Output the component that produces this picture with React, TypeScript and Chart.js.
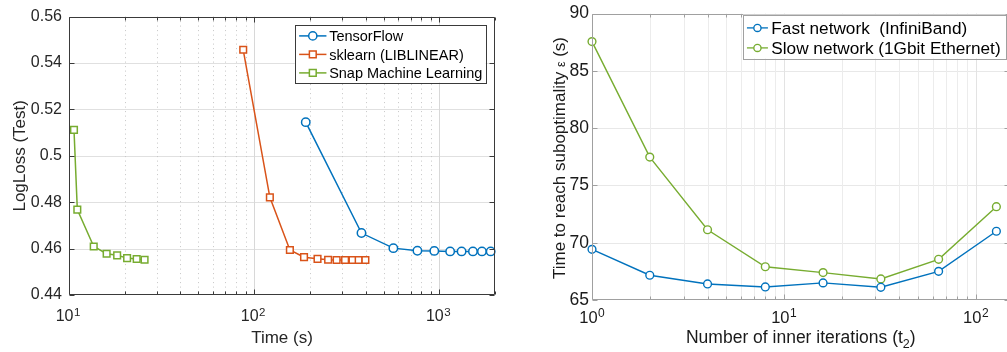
import React, { useEffect, useRef } from "react";
import { Chart, registerables } from "chart.js";

Chart.register(...registerables);

const FONT = '"Liberation Sans", Arial, Helvetica, sans-serif';
const BLUE = "#0072BD";
const ORANGE = "#D95319";
const GREEN = "#77AC30";

// ---------- Left chart: LogLoss (Test) vs Time (s)
const tfTime = [190, 380, 565, 762, 940, 1145, 1320, 1520, 1700, 1895];
const tfLoss = [0.5145, 0.4667, 0.4602, 0.4591, 0.459, 0.4588, 0.4588, 0.4588, 0.4588, 0.4588];
const skTime = [87.3, 121.6, 156, 186, 220, 251, 279, 310, 340, 367, 399];
const skLoss = [0.5457, 0.4821, 0.4594, 0.4563, 0.4556, 0.4552, 0.4551, 0.4551, 0.4551, 0.4551, 0.4551];
const snapTime = [10.64, 11.09, 13.6, 15.97, 18.2, 20.6, 23.2, 25.6];
const snapLoss = [0.5112, 0.4768, 0.4609, 0.4578, 0.4571, 0.4559, 0.4555, 0.4552];
const leftLabels = ["TensorFlow", "sklearn (LIBLINEAR)", "Snap Machine Learning"];
const leftXRange = [10, 2000];
const leftYRange = [0.44, 0.56];
const leftYStep = 0.02;
const leftXTitle = "Time (s)";
const leftYTitle = "LogLoss (Test)";

// ---------- Right chart: time to reach suboptimality vs inner iterations
const innerIters = [1, 2, 4, 8, 16, 32, 64, 128];
const fastTime = [69.42, 67.16, 66.4, 66.14, 66.49, 66.11, 67.5, 71.0];
const slowTime = [87.55, 77.47, 71.13, 67.9, 67.39, 66.84, 68.55, 73.14];
const rightLabels = ["Fast network  (InfiniBand)", "Slow network (1Gbit Ethernet)"];
const rightXRange = [1, 150];
const rightYRange = [65, 90];
const rightYStep = 5;
const rightXTitle = ["Number of inner iterations (t", "2", ")"];
const rightYTitle = ["Time to reach suboptimality ", "\u03b5", " (s)"];

type Tk = { v: number; major: boolean };

function logTicks(min: number, max: number): Tk[] {
  const out: Tk[] = [];
  const e0 = Math.floor(Math.log10(min));
  const e1 = Math.ceil(Math.log10(max));
  for (let e = e0; e <= e1; e++) {
    for (let s = 1; s < 10; s++) {
      const v = s * Math.pow(10, e);
      if (v >= min * 0.9999 && v <= max * 1.0001) out.push({ v, major: s === 1 });
    }
  }
  return out;
}

const crisp = (p: number) => Math.round(p) + 0.5;

function line(ctx: CanvasRenderingContext2D, x1: number, y1: number, x2: number, y2: number) {
  ctx.beginPath();
  ctx.moveTo(x1, y1);
  ctx.lineTo(x2, y2);
  ctx.stroke();
}

function drawMarker(ctx: CanvasRenderingContext2D, style: string, x: number, y: number, r: number, color: string, lw: number) {
  ctx.save();
  ctx.lineWidth = lw;
  ctx.strokeStyle = color;
  ctx.fillStyle = "#fff";
  ctx.beginPath();
  if (style === "rect") ctx.rect(x - r, y - r, 2 * r, 2 * r);
  else ctx.arc(x, y, r, 0, Math.PI * 2);
  ctx.fill();
  ctx.stroke();
  ctx.restore();
}

type Seg = { t: string; font: string; dy?: number };

function drawRich(ctx: CanvasRenderingContext2D, segs: Seg[], cx: number, y: number) {
  let total = 0;
  const ws = segs.map((s) => {
    ctx.font = s.font;
    const w = ctx.measureText(s.t).width;
    total += w;
    return w;
  });
  let x = cx - total / 2;
  ctx.textAlign = "left";
  ctx.textBaseline = "alphabetic";
  segs.forEach((s, i) => {
    ctx.font = s.font;
    ctx.fillText(s.t, x, y + (s.dy || 0));
    x += ws[i];
  });
}

function drawPowLabels(ctx: CanvasRenderingContext2D, xs: any, ticks: Tk[], o: any) {
  ctx.save();
  ctx.fillStyle = o.color;
  ctx.textAlign = "left";
  ctx.textBaseline = "alphabetic";
  ticks
    .filter((t) => t.major)
    .forEach((t) => {
      const px = xs.getPixelForValue(t.v);
      const exp = String(Math.round(Math.log10(t.v)));
      ctx.font = o.baseFont;
      const wb = ctx.measureText("10").width;
      ctx.font = o.expFont;
      const we = ctx.measureText(exp).width;
      const start = px - (wb + we + o.gap) / 2 + o.shift;
      ctx.font = o.baseFont;
      ctx.fillText("10", start, o.baseY);
      ctx.font = o.expFont;
      ctx.fillText(exp, start + wb + o.gap, o.expY);
    });
  ctx.restore();
}

function drawLegend(chart: any, o: any) {
  const ctx: CanvasRenderingContext2D = chart.ctx;
  const ds = chart.data.datasets;
  ctx.save();
  ctx.font = o.font;
  const maxW = Math.max(...ds.map((d: any) => ctx.measureText(d.label).width));
  const w = o.textX + maxW + o.padRight;
  const left = o.right - w;
  const h = o.firstRow + (ds.length - 1) * o.rowH + o.padBottom;
  ctx.fillStyle = "#fff";
  ctx.fillRect(left, o.top, w, h);
  ctx.strokeStyle = o.border;
  ctx.lineWidth = 1;
  ctx.strokeRect(crisp(left), crisp(o.top), Math.round(w), Math.round(h));
  ds.forEach((d: any, i: number) => {
    const y = o.top + o.firstRow + i * o.rowH;
    ctx.strokeStyle = d.borderColor;
    ctx.lineWidth = o.lw;
    line(ctx, left + o.lineStart, y, left + o.lineEnd, y);
    drawMarker(ctx, d.pointStyle, left + (o.lineStart + o.lineEnd) / 2, y, d.pointStyle === "rect" ? o.rectR : o.markerR, d.borderColor, o.lw);
    ctx.fillStyle = o.textColor;
    ctx.font = o.font;
    ctx.textAlign = "left";
    ctx.textBaseline = "alphabetic";
    ctx.fillText(d.label, left + o.textX, y + o.fontSize * 0.36);
  });
  ctx.restore();
}

function decoPlugin(cfg: any) {
  return {
    id: cfg.id,
    beforeDatasetsDraw(chart: any) {
      const ctx: CanvasRenderingContext2D = chart.ctx;
      const ca = chart.chartArea;
      const xs = chart.scales.x;
      const ys = chart.scales.y;
      ctx.save();
      ctx.lineWidth = 1;
      ctx.strokeStyle = cfg.hGrid;
      ys.ticks.forEach((t: any) => {
        const y = crisp(ys.getPixelForValue(t.value));
        if (y > ca.top + 1 && y < ca.bottom - 1) line(ctx, ca.left, y, ca.right, y);
      });
      logTicks(cfg.xRange[0], cfg.xRange[1]).forEach((t) => {
        const x = crisp(xs.getPixelForValue(t.v));
        if (x <= ca.left + 1 || x >= ca.right - 1) return;
        if (t.major) {
          ctx.setLineDash([]);
          ctx.strokeStyle = cfg.vMajor;
        } else {
          ctx.setLineDash(cfg.minorDash);
          ctx.strokeStyle = cfg.vMinor;
        }
        line(ctx, x, ca.top, x, ca.bottom);
      });
      ctx.restore();
    },
    afterDatasetsDraw(chart: any) {
      const ctx: CanvasRenderingContext2D = chart.ctx;
      const ca = chart.chartArea;
      const xs = chart.scales.x;
      const ys = chart.scales.y;
      const ticks = logTicks(cfg.xRange[0], cfg.xRange[1]);
      ctx.save();
      ctx.strokeStyle = cfg.frame;
      ctx.lineWidth = 1;
      const L = crisp(ca.left), R = crisp(ca.right - 1), T = crisp(ca.top), B = crisp(ca.bottom - 1);
      line(ctx, L, T, R, T);
      line(ctx, L, B, R, B);
      line(ctx, L, T, L, B);
      line(ctx, R, T, R, B);
      ys.ticks.forEach((t: any) => {
        const y = crisp(ys.getPixelForValue(t.value));
        line(ctx, L, y, L + cfg.majorTick, y);
        line(ctx, R, y, R - cfg.majorTick, y);
      });
      ticks.forEach((t) => {
        const x = crisp(xs.getPixelForValue(t.v));
        const len = t.major ? cfg.majorTick : cfg.minorTick;
        line(ctx, x, B, x, B - len);
        line(ctx, x, T, x, T + len);
      });
      ctx.restore();

      drawPowLabels(ctx, xs, ticks, cfg.pow);

      ctx.save();
      ctx.fillStyle = cfg.titleColor;
      drawRich(ctx, cfg.xTitle, (ca.left + ca.right) / 2, cfg.xTitleY);
      ctx.translate(cfg.yTitleX, cfg.yTitleCY ?? (ca.top + ca.bottom) / 2);
      ctx.rotate(-Math.PI / 2);
      drawRich(ctx, cfg.yTitle, 0, 0);
      ctx.restore();
    },
    afterDraw(chart: any) {
      const ca = chart.chartArea;
      drawLegend(chart, { ...cfg.legend, right: ca.right - cfg.legend.dRight, top: ca.top + cfg.legend.dTop });
    },
  };
}

function leftConfig(): any {
  const mk = (label: string, xs: number[], ys: number[], color: string, style: string, r: number) => ({
    label,
    data: xs.map((x, i) => ({ x, y: ys[i] })),
    borderColor: color,
    backgroundColor: "#fff",
    pointBackgroundColor: "#fff",
    pointBorderColor: color,
    pointStyle: style,
    pointRadius: r,
    pointBorderWidth: 1.5,
    borderWidth: 1.5,
    tension: 0,
    clip: false,
  });
  return {
    type: "line",
    data: {
      datasets: [
        mk(leftLabels[0], tfTime, tfLoss, BLUE, "circle", 4.2),
        mk(leftLabels[1], skTime, skLoss, ORANGE, "rect", 4.7),
        mk(leftLabels[2], snapTime, snapLoss, GREEN, "rect", 4.7),
      ],
    },
    options: {
      responsive: false,
      animation: false,
      events: [],
      layout: { padding: { top: 10, right: 15, left: 0, bottom: 0 } },
      plugins: { legend: { display: false }, tooltip: { enabled: false } },
      scales: {
        x: {
          type: "logarithmic",
          min: leftXRange[0],
          max: leftXRange[1],
          grid: { display: false, drawTicks: false },
          border: { display: false },
          ticks: { display: false },
          afterFit: (s: any) => {
            s.height = 57;
          },
        },
        y: {
          type: "linear",
          min: leftYRange[0],
          max: leftYRange[1],
          grid: { display: false, drawTicks: false },
          border: { display: false },
          ticks: {
            stepSize: leftYStep,
            padding: 7,
            color: "#262626",
            font: { family: FONT, size: 16 },
            callback: (v: any) => String(Number(Number(v).toFixed(2))),
          },
          afterFit: (s: any) => {
            s.width = 69;
          },
        },
      },
    },
    plugins: [
      decoPlugin({
        id: "leftDeco",
        xRange: leftXRange,
        hGrid: "#e0e0e0",
        vMajor: "#d8d8d8",
        vMinor: "#c6c6c6",
        minorDash: [1, 3.5],
        frame: "#3a3a3a",
        majorTick: 5,
        minorTick: 3,
        pow: { color: "#262626", baseFont: `16px ${FONT}`, expFont: `11.5px ${FONT}`, baseY: 321, expY: 315.5, gap: 0.5, shift: -1 },
        titleColor: "#262626",
        xTitle: [{ t: leftXTitle, font: `17px ${FONT}` }],
        xTitleY: 343,
        yTitle: [{ t: leftYTitle, font: `17px ${FONT}` }],
        yTitleX: 25,
        legend: {
          dRight: 9.3,
          dTop: 8.3,
          font: `14.5px ${FONT}`,
          fontSize: 14.5,
          firstRow: 11,
          rowH: 18.5,
          padBottom: 9.7,
          lineStart: 4.4,
          lineEnd: 31.7,
          textX: 34.4,
          padRight: 3.4,
          markerR: 4.1,
          rectR: 3.4,
          lw: 1.5,
          border: "#3a3a3a",
          textColor: "#000",
        },
      }),
    ],
  };
}

function rightConfig(): any {
  const mk = (label: string, ys: number[], color: string) => ({
    label,
    data: innerIters.map((x, i) => ({ x, y: ys[i] })),
    borderColor: color,
    backgroundColor: "#fff",
    pointBackgroundColor: "#fff",
    pointBorderColor: color,
    pointStyle: "circle",
    pointRadius: 3.9,
    pointBorderWidth: 1.4,
    borderWidth: 1.4,
    tension: 0,
    clip: false,
  });
  return {
    type: "line",
    data: {
      datasets: [mk(rightLabels[0], fastTime, BLUE), mk(rightLabels[1], slowTime, GREEN)],
    },
    options: {
      responsive: false,
      animation: false,
      events: [],
      layout: { padding: { top: 13, right: 3.5, left: 0, bottom: 0 } },
      plugins: { legend: { display: false }, tooltip: { enabled: false } },
      scales: {
        x: {
          type: "logarithmic",
          min: rightXRange[0],
          max: rightXRange[1],
          grid: { display: false, drawTicks: false },
          border: { display: false },
          ticks: { display: false },
          afterFit: (s: any) => {
            s.height = 52;
          },
        },
        y: {
          type: "linear",
          min: rightYRange[0],
          max: rightYRange[1],
          grid: { display: false, drawTicks: false },
          border: { display: false },
          ticks: {
            stepSize: rightYStep,
            padding: 3,
            color: "#1a1a1a",
            font: { family: FONT, size: 17.5 },
            callback: (v: any) => String(Math.round(Number(v))),
          },
          afterFit: (s: any) => {
            s.width = 92;
          },
        },
      },
    },
    plugins: [
      decoPlugin({
        id: "rightDeco",
        xRange: rightXRange,
        hGrid: "#e8e8e8",
        vMajor: "#e3e3e3",
        vMinor: "#ececec",
        minorDash: [],
        frame: "#a0a0a0",
        majorTick: 5,
        minorTick: 3,
        pow: { color: "#1a1a1a", baseFont: `16.5px ${FONT}`, expFont: `12px ${FONT}`, baseY: 323, expY: 316.5, gap: 0.5, shift: 0 },
        titleColor: "#1a1a1a",
        xTitle: [
          { t: rightXTitle[0], font: `17.5px ${FONT}` },
          { t: rightXTitle[1], font: `12.5px ${FONT}`, dy: 5.5 },
          { t: rightXTitle[2], font: `17.5px ${FONT}` },
        ],
        xTitleY: 342.5,
        yTitle: [
          { t: rightYTitle[0], font: `17px ${FONT}` },
          { t: rightYTitle[1], font: `12.5px ${FONT}` },
          { t: rightYTitle[2], font: `17px ${FONT}` },
        ],
        yTitleX: 65,
        yTitleCY: 158,
        legend: {
          dRight: 4,
          dTop: 1,
          font: `17.2px ${FONT}`,
          fontSize: 17.2,
          firstRow: 13.4,
          rowH: 20,
          padBottom: 10.6,
          lineStart: 4,
          lineEnd: 25,
          textX: 28.4,
          padRight: 5,
          markerR: 3.6,
          rectR: 3.4,
          lw: 1.3,
          border: "#a0a0a0",
          textColor: "#000",
        },
      }),
    ],
  };
}

export default function App() {
  const leftRef = useRef<HTMLCanvasElement>(null);
  const rightRef = useRef<HTMLCanvasElement>(null);
  useEffect(() => {
    const c1 = new Chart(leftRef.current as HTMLCanvasElement, leftConfig());
    const c2 = new Chart(rightRef.current as HTMLCanvasElement, rightConfig());
    return () => {
      c1.destroy();
      c2.destroy();
    };
  }, []);
  return (
    <div
      style={{
        position: "absolute",
        left: 0,
        top: 0,
        width: 1007,
        height: 352,
        overflow: "hidden",
        background: "#fff",
      }}
    >
      <canvas
        ref={leftRef}
        width={510}
        height={352}
        style={{ position: "absolute", left: 0, top: 0, width: 510, height: 352 }}
      />
      <canvas
        ref={rightRef}
        width={515}
        height={352}
        style={{ position: "absolute", left: 500, top: 0, width: 515, height: 352 }}
      />
    </div>
  );
}
